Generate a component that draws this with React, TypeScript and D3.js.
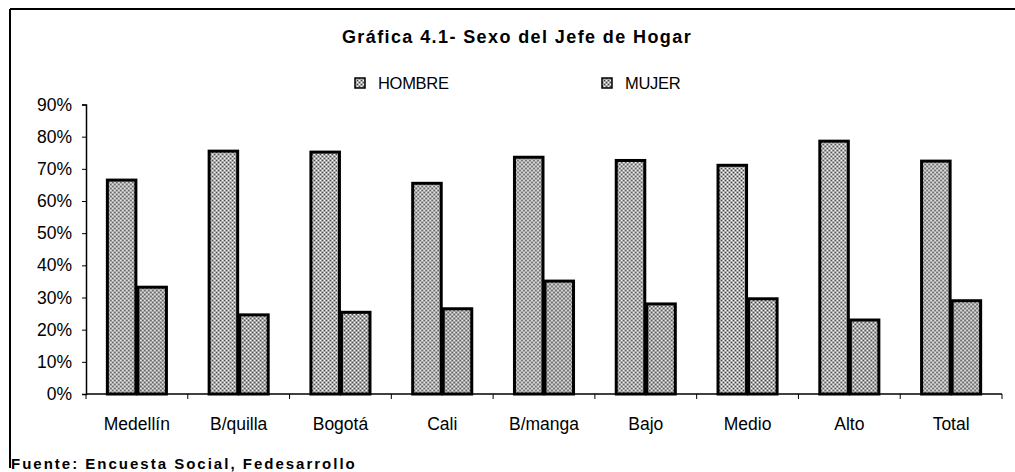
import { useEffect, useRef } from 'react';
import * as d3 from 'd3';

const categories = ['Medellín', 'B/quilla', 'Bogotá', 'Cali', 'B/manga', 'Bajo', 'Medio', 'Alto', 'Total'];
const hombre = [66.5, 75.5, 75.2, 65.5, 73.6, 72.6, 71.1, 78.6, 72.4];
const mujer = [33.2, 24.6, 25.4, 26.5, 35.1, 28.0, 29.6, 23.0, 29.0];
const yTicks = [0, 10, 20, 30, 40, 50, 60, 70, 80, 90];
const seriesNames = ['HOMBRE', 'MUJER'];

const App = () => {
  const ref = useRef<SVGSVGElement | null>(null);

  useEffect(() => {
    const width = 1015;
    const height = 472;
    const left = 86;
    const right = 1002;
    const top = 104.5;
    const bottom = 394;
    const font = 'Arial, "Liberation Sans", sans-serif';

    const svg = d3.select(ref.current);
    svg.selectAll('*').remove();
    svg.attr('width', width).attr('height', height);

    // stippled grey fills, like the scanned print
    const defs = svg.append('defs');
    const makePattern = (id: string, bg: string) => {
      const p = defs
        .append('pattern')
        .attr('id', id)
        .attr('patternUnits', 'userSpaceOnUse')
        .attr('width', 4)
        .attr('height', 4);
      p.append('rect').attr('width', 4).attr('height', 4).attr('fill', bg);
      p.append('rect').attr('x', 0).attr('y', 0).attr('width', 1).attr('height', 1).attr('fill', '#444');
      p.append('rect').attr('x', 2).attr('y', 2).attr('width', 1).attr('height', 1).attr('fill', '#444');
      p.append('rect').attr('x', 2).attr('y', 0).attr('width', 1).attr('height', 1).attr('fill', '#fff');
      p.append('rect').attr('x', 0).attr('y', 2).attr('width', 1).attr('height', 1).attr('fill', '#fff');
    };
    makePattern('pat-h', '#adadad');
    makePattern('pat-m', '#a6a6a6');
    const fills = ['url(#pat-h)', 'url(#pat-m)'];

    const x0 = d3.scaleBand<string>().domain(categories).range([left, right]).paddingInner(0.4).paddingOuter(0.2);
    const x1 = d3.scaleBand<string>().domain(seriesNames).range([0, x0.bandwidth()]);
    const y = d3.scaleLinear().domain([0, 90]).range([bottom, top]);

    // frame (top and left only)
    svg.append('line').attr('x1', 10).attr('x2', 1015).attr('y1', 9).attr('y2', 9).attr('stroke', '#000').attr('stroke-width', 2);
    svg.append('line').attr('x1', 10).attr('x2', 10).attr('y1', 9).attr('y2', 468).attr('stroke', '#000').attr('stroke-width', 2);

    svg
      .append('text')
      .attr('x', 517)
      .attr('y', 43)
      .attr('text-anchor', 'middle')
      .style('font-family', font)
      .style('font-size', '18px')
      .style('font-weight', 'bold')
      .style('letter-spacing', '1.4px')
      .text('Gráfica 4.1- Sexo del Jefe de Hogar');

    // legend
    const legendX = [355, 602];
    seriesNames.forEach((name, i) => {
      const g = svg.append('g').attr('transform', `translate(${legendX[i]},78)`);
      g.append('rect').attr('width', 10).attr('height', 10).attr('fill', fills[i]).attr('stroke', '#000').attr('stroke-width', 1.5);
      g.append('text')
        .attr('x', 23)
        .attr('y', 11)
        .style('font-family', font)
        .style('font-size', '16.5px')
        .style('letter-spacing', '-0.3px')
        .text(name);
    });

    // y axis
    const yAxis = d3
      .axisLeft(y)
      .tickValues(yTicks)
      .tickSize(4)
      .tickPadding(10)
      .tickFormat((d) => `${d}%`);
    const ya = svg.append('g').attr('transform', `translate(${left},0)`).call(yAxis);
    ya.select('.domain').attr('stroke', '#000').attr('stroke-width', 1.5);
    ya.selectAll('text').style('font-family', font).style('font-size', '17.5px').attr('fill', '#000');

    // x axis baseline + category ticks
    svg.append('line').attr('x1', left).attr('x2', right).attr('y1', bottom).attr('y2', bottom).attr('stroke', '#000').attr('stroke-width', 1.5);
    const step = x0.step();
    const bounds = d3.range(categories.length + 1).map((i) => left + i * step);
    svg
      .selectAll('line.xt')
      .data(bounds)
      .enter()
      .append('line')
      .attr('class', 'xt')
      .attr('x1', (d) => d)
      .attr('x2', (d) => d)
      .attr('y1', bottom)
      .attr('y2', bottom + 5)
      .attr('stroke', '#000');

    svg
      .selectAll('text.xl')
      .data(categories)
      .enter()
      .append('text')
      .attr('class', 'xl')
      .attr('x', (d) => (x0(d) as number) + x0.bandwidth() / 2)
      .attr('y', 430)
      .attr('text-anchor', 'middle')
      .style('font-family', font)
      .style('font-size', '17.5px')
      .text((d) => d);

    // bars
    const groups = svg
      .selectAll('g.cat')
      .data(categories)
      .enter()
      .append('g')
      .attr('class', 'cat')
      .attr('transform', (d) => `translate(${x0(d)},0)`);

    groups
      .selectAll('rect')
      .data((d, i) => [
        { key: 'HOMBRE', v: hombre[i], s: 0 },
        { key: 'MUJER', v: mujer[i], s: 1 },
      ])
      .enter()
      .append('rect')
      .attr('x', (d) => (x1(d.key) as number) + 1)
      .attr('y', (d) => y(d.v))
      .attr('width', x1.bandwidth() - 2)
      .attr('height', (d) => bottom - y(d.v))
      .attr('fill', (d) => fills[d.s])
      .attr('stroke', '#000')
      .attr('stroke-width', 3);

    svg
      .append('text')
      .attr('x', 11)
      .attr('y', 469)
      .style('font-family', font)
      .style('font-size', '15px')
      .style('font-weight', 'bold')
      .style('letter-spacing', '2px')
      .text('Fuente: Encuesta Social, Fedesarrollo');
  }, []);

  return (
    <svg ref={ref} style={{ position: 'absolute', left: 0, top: 0, background: '#fff' }}></svg>
  );
};

export default App;
